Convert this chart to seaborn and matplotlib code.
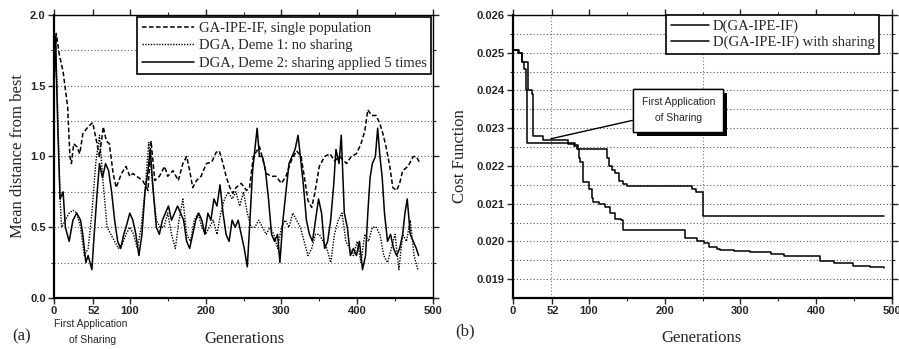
import matplotlib
matplotlib.use("Agg")
import matplotlib.pyplot as plt
import matplotlib.patheffects as pe
import seaborn as sns
import pandas as pd

# ---------------- Data: panel (a) ----------------
gens_single = [0, 3, 7, 12, 18, 21, 23, 26, 30, 34, 38, 45, 51, 56, 60, 65, 69, 73, 78, 82,
               89, 95, 100, 104, 109, 117, 124, 128, 133, 139, 146, 150, 157, 164, 170, 175, 179, 183, 188, 194,
               201, 208, 214, 218, 223, 227, 232, 236, 240, 247, 254, 258, 263, 271, 276, 280, 287, 293, 300, 306,
               313, 320, 326, 331, 335, 340, 344, 350, 357, 364, 370, 377, 386, 392, 399, 405, 410, 414, 419, 425,
               430, 434, 438, 443, 447, 452, 456, 460, 467, 474, 478, 483]
dist_single = [1.5, 1.87, 1.72, 1.6, 1.35, 1.0, 0.95, 1.09, 1.07, 1.02, 1.16, 1.21, 1.24, 1.11, 1.0, 1.21, 1.11, 1.09, 0.88, 0.78,
               0.88, 0.93, 0.86, 0.88, 0.86, 0.83, 0.76, 1.11, 0.83, 0.86, 0.93, 0.86, 0.90, 0.83, 0.95, 1.0, 0.90, 0.78, 0.83, 0.86,
               0.95, 0.96, 1.03, 1.04, 0.95, 0.86, 0.78, 0.74, 0.78, 0.81, 0.76, 0.78, 1.0, 1.07, 0.97, 0.88, 0.86, 0.86, 0.81, 0.86,
               0.97, 1.04, 1.0, 0.83, 0.69, 0.64, 0.74, 0.93, 1.0, 1.02, 0.97, 1.0, 0.95, 1.0, 1.02, 1.09, 1.18, 1.33, 1.29, 1.29,
               1.23, 1.16, 1.07, 0.93, 0.78, 0.76, 0.81, 0.90, 0.93, 1.0, 1.0, 0.95]

gens_deme1 = [0, 2, 5, 8, 10] + list(range(15, 481, 5))
dist_deme1 = [1.5, 1.8, 1.3, 0.7, 0.5,
              0.55, 0.6, 0.62, 0.6, 0.5, 0.3, 0.35, 0.6, 0.95, 1.15,
              0.8, 0.5, 0.45, 0.4, 0.35, 0.38, 0.45, 0.5, 0.45, 0.35,
              0.5, 0.75, 1.1, 0.8, 0.55, 0.5, 0.5, 0.6, 0.45, 0.35,
              0.55, 0.7, 0.45, 0.4, 0.55, 0.6, 0.5, 0.45, 0.5, 0.55,
              0.45, 0.6, 0.7, 0.75, 0.7, 0.75, 0.65, 0.75, 0.6, 0.5,
              0.5, 0.55, 0.5, 0.45, 0.5, 0.45, 0.35, 0.5, 0.55, 0.5,
              0.6, 0.55, 0.5, 0.4, 0.3, 0.35, 0.45, 0.45, 0.4, 0.35,
              0.25, 0.45, 0.55, 0.6, 0.4, 0.35, 0.3, 0.4, 0.25, 0.45,
              0.4, 0.5, 0.5, 0.45, 0.3, 0.25, 0.35, 0.45, 0.2, 0.45,
              0.4, 0.55, 0.3, 0.2]

gens_deme2 = [0, 2, 5, 8, 12, 15, 20, 25, 30, 35, 38, 42, 45, 50, 53, 57, 60, 64, 68, 72,
              76, 80, 84, 88, 92, 95, 100, 104, 108, 112, 116, 120, 124, 127, 131, 135, 139, 143, 147, 151,
              155, 159, 163, 167, 171, 175, 179, 183, 187, 191, 195, 199, 203, 207, 211, 215, 219, 223, 227, 231,
              235, 239, 243, 247, 251, 255, 258, 262, 265, 268, 271, 275, 279, 283, 287, 291, 295, 298, 302, 306,
              310, 314, 318, 322, 325, 329, 333, 337, 341, 345, 349, 353, 357, 361, 365, 369, 372, 376, 379, 383,
              387, 391, 395, 399, 403, 407, 411, 414, 417, 420, 424, 427, 430, 433, 436, 440, 444, 448, 452, 456,
              460, 463, 466, 470, 474, 478, 481]
dist_deme2 = [1.5, 1.85, 1.2, 0.7, 0.75, 0.5, 0.4, 0.55, 0.6, 0.55, 0.45, 0.25, 0.3, 0.2, 0.45, 0.75, 0.95, 0.85, 0.95, 0.9,
              0.75, 0.55, 0.4, 0.35, 0.45, 0.5, 0.6, 0.55, 0.45, 0.3, 0.45, 0.75, 0.9, 1.05, 0.75, 0.5, 0.45, 0.55, 0.6, 0.65,
              0.55, 0.6, 0.65, 0.6, 0.55, 0.4, 0.35, 0.45, 0.55, 0.6, 0.55, 0.45, 0.6, 0.55, 0.7, 0.65, 0.8, 0.6, 0.45, 0.4,
              0.55, 0.5, 0.55, 0.45, 0.35, 0.22, 0.5, 0.9, 1.05, 1.2, 1.0, 1.0, 0.9, 0.7, 0.45, 0.4, 0.45, 0.25, 0.55, 0.75,
              0.95, 1.0, 1.05, 1.15, 1.0, 0.8, 0.55, 0.45, 0.4, 0.55, 0.7, 0.6, 0.35, 0.4, 0.55, 0.8, 1.05, 0.95, 1.15, 0.6,
              0.5, 0.3, 0.35, 0.3, 0.4, 0.2, 0.3, 0.6, 0.85, 0.95, 1.0, 1.2, 1.0, 0.85, 0.6, 0.4, 0.45, 0.35, 0.3, 0.35,
              0.45, 0.6, 0.7, 0.45, 0.4, 0.35, 0.3]

labels_a = ["GA-IPE-IF, single population",
            "DGA, Deme 1: no sharing",
            "DGA, Deme 2: sharing applied 5 times"]

# ---------------- Data: panel (b) ----------------
gens_plain = [0, 7, 12, 15, 17, 19, 82, 86, 124, 127, 131, 135, 140, 145, 150, 236, 242, 250, 490]
cost_plain = [0.02508, 0.0250, 0.02475, 0.02458, 0.0240, 0.02262, 0.02255, 0.02245, 0.0222, 0.0220,
              0.0219, 0.0218, 0.0216, 0.02152, 0.02146, 0.0214, 0.0213, 0.02068, 0.02068]

gens_share = [0, 8, 12, 20, 25, 27, 40, 73, 80, 84, 87, 89, 93, 100, 104, 106, 113, 122, 128, 135,
              142, 145, 225, 227, 243, 252, 258, 269, 273, 291, 313, 340, 357, 392, 405, 423, 449, 471, 489]
cost_share = [0.02508, 0.0250, 0.02475, 0.0240, 0.0239, 0.0228, 0.0227, 0.02258, 0.02252, 0.02245,
              0.0222, 0.0221, 0.02158, 0.0214, 0.02114, 0.02105, 0.0210, 0.0209, 0.02074, 0.0206,
              0.02057, 0.0203, 0.0203, 0.02008, 0.0200, 0.01995, 0.01985, 0.0198, 0.01976, 0.01975,
              0.01971, 0.01967, 0.01962, 0.0196, 0.01947, 0.01942, 0.01936, 0.01933, 0.0193]

labels_b = ["D(GA-IPE-IF)", "D(GA-IPE-IF) with sharing"]

xticks = [0, 52, 100, 200, 300, 400, 500]
xminor = [150, 250, 350, 450]

# ---------------- Style ----------------
sns.set_style("ticks")
plt.rcParams["font.family"] = ["Liberation Serif", "DejaVu Serif"]
plt.rcParams["axes.linewidth"] = 1.0

fig = plt.figure(figsize=(8.99, 3.49), dpi=100)
axA = fig.add_axes([54 / 899, 1 - 298 / 349, 379 / 899, 283 / 349])
axB = fig.add_axes([513 / 899, 1 - 298 / 349, 379 / 899, 283 / 349])

dfA = pd.concat([
    pd.DataFrame({"gen": gens_single, "val": dist_single, "series": labels_a[0]}),
    pd.DataFrame({"gen": gens_deme1, "val": dist_deme1, "series": labels_a[1]}),
    pd.DataFrame({"gen": gens_deme2, "val": dist_deme2, "series": labels_a[2]}),
])
stylesA = {labels_a[0]: (0, (3, 1.6)), labels_a[1]: (0, (1, 1)), labels_a[2]: "-"}
widthsA = {labels_a[0]: 1.1, labels_a[1]: 1.0, labels_a[2]: 1.1}
for lab in labels_a:
    sub = dfA[dfA["series"] == lab]
    sns.lineplot(data=sub, x="gen", y="val", ax=axA, color="black",
                 linestyle=stylesA[lab], linewidth=widthsA[lab], label=lab,
                 estimator=None, sort=False)

dfB = pd.concat([
    pd.DataFrame({"gen": gens_plain, "val": cost_plain, "series": labels_b[0]}),
    pd.DataFrame({"gen": gens_share, "val": cost_share, "series": labels_b[1]}),
])
for lab in labels_b:
    sub = dfB[dfB["series"] == lab]
    sns.lineplot(data=sub, x="gen", y="val", ax=axB, color="black",
                 linewidth=1.1, label=lab, drawstyle="steps-post",
                 estimator=None, sort=False)

tickfont = dict(family="Liberation Sans", size=8, weight="bold")

for ax in (axA, axB):
    ax.set_xlim(0, 500)
    ax.set_xticks(xticks)
    ax.set_xticks(xminor, minor=True)
    ax.set_xticklabels([str(t) for t in xticks], fontdict=tickfont)
    ax.tick_params(axis="both", which="major", direction="out", length=4, width=1,
                   top=True, right=True, pad=2)
    ax.tick_params(axis="both", which="minor", direction="out", length=2.5, width=0.8,
                   top=True, right=True)
    for s in ax.spines.values():
        s.set_color("black")
        s.set_linewidth(1.0)
    ax.spines["left"].set_linewidth(1.6)
    ax.spines["bottom"].set_linewidth(1.6)
    ax.yaxis.grid(True, which="both", linestyle=(0, (1, 2)), color="0.35", linewidth=0.8)
    ax.set_axisbelow(True)
    ax.set_xlabel("")

# panel (a) axes
axA.set_ylim(0, 2.0)
axA.set_yticks([0.0, 0.5, 1.0, 1.5, 2.0])
axA.set_yticks([0.25, 0.75, 1.25, 1.75], minor=True)
axA.set_yticklabels(["0.0", "0.5", "1.0", "1.5", "2.0"], fontdict=tickfont)
axA.set_ylabel("Mean distance from best", fontsize=12, labelpad=3)
legA = axA.legend(loc="upper right", fontsize=10.5, frameon=True, fancybox=False,
                  edgecolor="black", framealpha=1, borderaxespad=0.15,
                  handlelength=3.6, handletextpad=0.3, labelspacing=0.3, borderpad=0.3)
legA.get_frame().set_linewidth(1.2)

# panel (b) axes
axB.set_ylim(0.0185, 0.026)
ytB = [0.019, 0.020, 0.021, 0.022, 0.023, 0.024, 0.025, 0.026]
axB.set_yticks(ytB)
axB.set_yticks([0.0195, 0.0205, 0.0215, 0.0225, 0.0235, 0.0245, 0.0255], minor=True)
axB.set_yticklabels([f"{v:.3f}" for v in ytB], fontdict=tickfont)
axB.set_ylabel("Cost Function", fontsize=12, labelpad=6)
for xv in (50, 250):
    axB.axvline(xv, linestyle=(0, (1, 2)), color="0.45", linewidth=0.8, zorder=0)
legB = axB.legend(loc="upper right", bbox_to_anchor=(0.966, 1.0), fontsize=10.5,
                  frameon=True, fancybox=False, edgecolor="black", framealpha=1,
                  borderaxespad=0, handlelength=2.6, handletextpad=0.3,
                  labelspacing=0.2, borderpad=0.3)
legB.get_frame().set_linewidth(1.2)

ann = axB.annotate("First Application\nof Sharing", xy=(50, 0.02272), xytext=(218, 0.02348),
                   ha="center", va="center", family="Liberation Sans", fontsize=7.5,
                   linespacing=1.8,
                   bbox=dict(boxstyle="square,pad=0.8", fc="white", ec="black", lw=1),
                   arrowprops=dict(arrowstyle="-", color="black", lw=1, shrinkA=0, shrinkB=0))
ann.get_bbox_patch().set_path_effects([pe.withSimplePatchShadow(offset=(3, -3),
                                                                shadow_rgbFace="black", alpha=1),
                                       pe.Normal()])

# figure texts
fig.text(244 / 899, 1 - 339 / 349, "Generations", ha="center", va="center", fontsize=12)
fig.text(702 / 899, 1 - 338 / 349, "Generations", ha="center", va="center", fontsize=12)
fig.text(12 / 899, 1 - 336 / 349, "(a)", ha="left", va="center", fontsize=12)
fig.text(455 / 899, 1 - 331 / 349, "(b)", ha="left", va="center", fontsize=12)
fig.text(54 / 899, 1 - 324 / 349, "First Application", ha="left", va="center",
         family="Liberation Sans", fontsize=7.5)
fig.text(93 / 899, 1 - 340 / 349, "of Sharing", ha="center", va="center",
         family="Liberation Sans", fontsize=7.5)

fig.savefig("out.png", dpi=100)
